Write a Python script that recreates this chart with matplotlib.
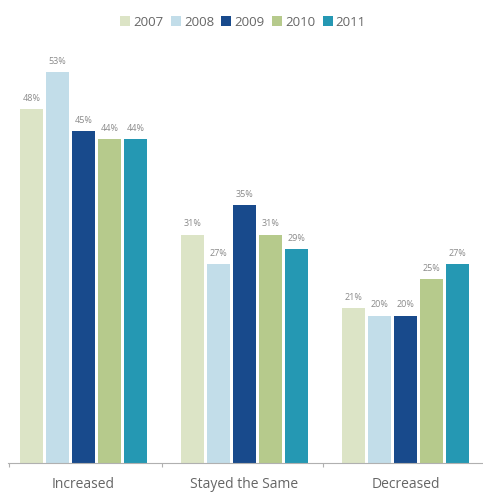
import numpy as np
import matplotlib
matplotlib.use("Agg")
import matplotlib.pyplot as plt

plt.rcParams['font.family'] = ['Open Sans', 'DejaVu Sans']

# survey responses by year
categories = ["Increased", "Stayed the Same", "Decreased"]
years = ["2007", "2008", "2009", "2010", "2011"]
values = {
    "2007": [48, 31, 21],
    "2008": [53, 27, 20],
    "2009": [45, 35, 20],
    "2010": [44, 31, 25],
    "2011": [44, 29, 27],
}
colors = ["#dce4c6", "#c2dde9", "#184a8c", "#b6ca8c", "#2598b3"]

fig = plt.figure(figsize=(4.83, 4.98), dpi=100)
ax = fig.add_axes([8 / 483, 35 / 498, 475 / 483, 427.5 / 498])

x = np.arange(len(categories))
width = 0.143
step = 0.1615
for i, (yr, col) in enumerate(zip(years, colors)):
    pos = x + (i - 2) * step
    bars = ax.bar(pos, values[yr], width=width, color=col, label=yr, zorder=2)
    for b, v in zip(bars, values[yr]):
        ax.text(b.get_x() + b.get_width() / 2, v + 1.45, f"{v}%",
                ha="center", va="center", fontsize=6.5, color="#8a8a8a")

ax.set_xlim(-0.469, 2.481)
ax.set_ylim(0, 58)
ax.set_yticks([])
for s in ["top", "right", "left"]:
    ax.spines[s].set_visible(False)
ax.spines["bottom"].set_color("#b0b0b0")
ax.spines["bottom"].set_linewidth(0.8)

ax.set_xticks([-0.465, 0.49, 1.49])
ax.set_xticklabels([])
ax.tick_params(axis="x", length=3, color="#b0b0b0", width=0.8)

for xi, cat in zip(x, categories):
    ax.text(xi, -0.05, cat, transform=ax.get_xaxis_transform(),
            ha="center", va="center", fontsize=10, color="#666666")

leg = fig.legend(loc="center", bbox_to_anchor=(243 / 483, 1 - 22 / 498), ncol=5,
                 frameon=False, fontsize=9.5, handlelength=0.75, handleheight=0.75,
                 handletextpad=0.25, columnspacing=0.55, labelcolor="#666666")

fig.savefig("out.png", dpi=100)
